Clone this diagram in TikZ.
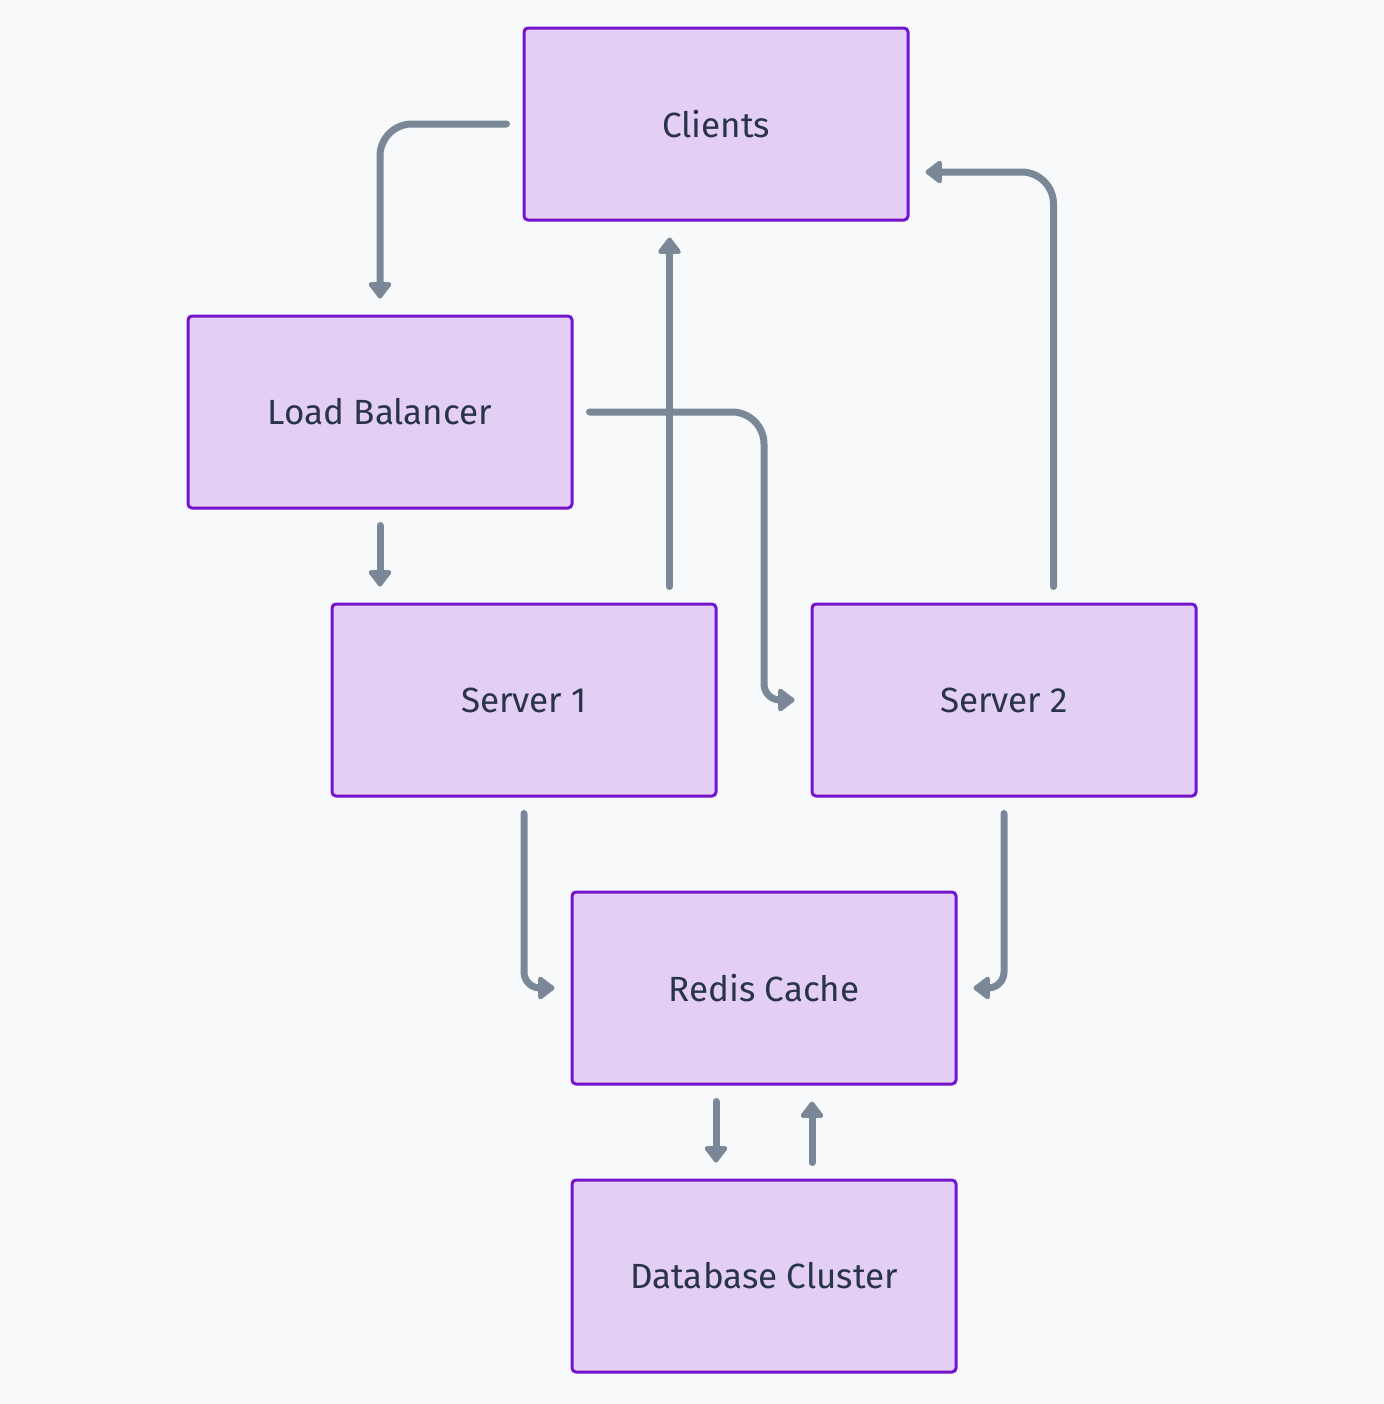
\documentclass[tikz,border=0pt]{standalone}
\usepackage{fontspec}
\setmainfont{Fira Sans}
\usetikzlibrary{arrows.meta,calc}

\definecolor{bgcol}{HTML}{F8F9FB}
\definecolor{boxfill}{HTML}{E3CEF4}
\definecolor{boxline}{HTML}{7413C9}
\definecolor{flowcol}{HTML}{7A8797}
\definecolor{txtcol}{HTML}{29334A}

\tikzset{
  block/.style={draw=boxline, fill=boxfill, line width=1.5pt, rounded corners=2pt,
    minimum width=192pt, minimum height=96pt, text=txtcol, font=\fontsize{17.5}{21}\selectfont},
  flow/.style={draw=flowcol, line width=3.5pt, line cap=round, rounded corners=16pt,
    -{Triangle[width=13pt,length=9pt,round]}},
  tight/.style={rounded corners=8pt},
}

\begin{document}
\begin{tikzpicture}[x=0.5pt,y=-0.5pt]
  \fill[bgcol] (0,0) rectangle (1384,1404);
  \useasboundingbox (0,0) rectangle (1384,1404);

  \node[block] (clients) at (716,124)  {Clients};
  \node[block] (lb)      at (380,412)  {Load Balancer};
  \node[block] (srvA)    at (524,700)  {Server 1};
  \node[block] (srvB)    at (1004,700) {Server 2};
  \node[block] (redis)   at (764,988)  {Redis Cache};
  \node[block] (db)      at (764,1276) {Database Cluster};
  \coordinate (gap) at ($(srvA.east)!0.5!(srvB.west)$);

  \draw[flow] ([xshift=-8pt]clients.west) -| ([yshift=8pt]lb.north);
  \draw[flow] ([yshift=-8pt]lb.south) -- ([yshift=8pt]lb.south |- srvA.north);
  \draw[flow] ([xshift=8pt]lb.east) -- (lb.east -| gap) [tight] -- (gap) -- ([xshift=-8pt]srvB.west);
  \draw[flow] ([shift={(-24pt,8pt)}]srvA.north east) -- ([shift={(-24pt,-8pt)}]srvA.north east |- clients.south);
  \draw[flow] ([shift={(-72pt,8pt)}]srvB.north east) |- ([shift={(8pt,-24pt)}]clients.east);
  \draw[flow,tight] ([yshift=-8pt]srvA.south) |- ([xshift=-8pt]redis.west);
  \draw[flow,tight] ([yshift=-8pt]srvB.south) |- ([xshift=8pt]redis.east);
  \draw[flow] ([shift={(-24pt,-8pt)}]redis.south) -- ([shift={(-24pt,8pt)}]db.north);
  \draw[flow] ([shift={(24pt,8pt)}]db.north) -- ([shift={(24pt,-8pt)}]redis.south);
\end{tikzpicture}
\end{document}
